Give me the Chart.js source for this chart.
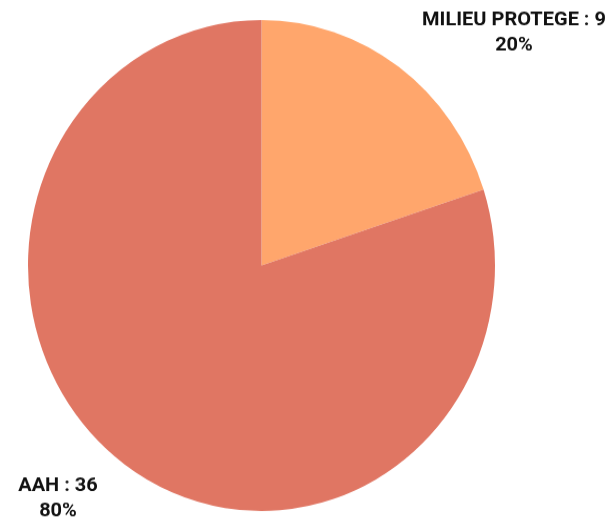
<!DOCTYPE html>
<html>
<head>
<meta charset="utf-8">
<script src="https://cdn.jsdelivr.net/npm/chart.js@4/dist/chart.umd.min.js"></script>
<style>
    html, body { margin: 0; padding: 0; background: #fff; }
    body { height: 519px; }
    /* reference pie is slightly taller than wide */
    #pie { display: block; transform-origin: 0 0; transform: scaleY(1.0514); }
</style>
</head>
<body>
<canvas id="pie" width="605" height="494"></canvas>
<script>
// Data / données
const categories = ['MILIEU PROTEGE', 'AAH'];
const counts = [9, 36];
const sliceColors = ['#FFA66C', '#E07663'];

const STRETCH = 1.0514;
const total = counts.reduce((a, b) => a + b, 0);

// Outside labels: name : count / percent
const outsideLabels = {
    id: 'outsideLabels',
    afterDraw(chart) {
        const ctx = chart.ctx;
        const area = chart.chartArea;
        // label anchors (centre of text block)
        const anchors = [
            { x: area.right + 19, y: area.top + 0 },
            { x: area.left + 30, y: area.bottom - 24 }
        ];
        ctx.save();
        ctx.fillStyle = '#111111';
        ctx.font = 'bold 20px Roboto, "Liberation Sans", sans-serif';
        ctx.textAlign = 'center';
        ctx.textBaseline = 'middle';
        categories.forEach((name, i) => {
            const pct = Math.round(counts[i] / total * 100) + '%';
            const a = anchors[i];
            ctx.save();
            ctx.translate(a.x, a.y);
            ctx.scale(1, 1 / STRETCH);
            ctx.fillText(name + ' : ' + counts[i], 0, 0);
            ctx.fillText(pct, 0, 26);
            ctx.restore();
        });
        ctx.restore();
    }
};

new Chart(document.getElementById('pie'), {
    type: 'pie',
    data: {
        labels: categories,
        datasets: [{
            data: counts,
            backgroundColor: sliceColors,
            borderWidth: 0
        }]
    },
    options: {
        responsive: false,
        animation: false,
        layout: { padding: { left: 28, right: 110, top: 19, bottom: 8 } },
        plugins: {
            legend: { display: false },
            tooltip: { enabled: false }
        }
    },
    plugins: [outsideLabels]
});
</script>
</body>
</html>
